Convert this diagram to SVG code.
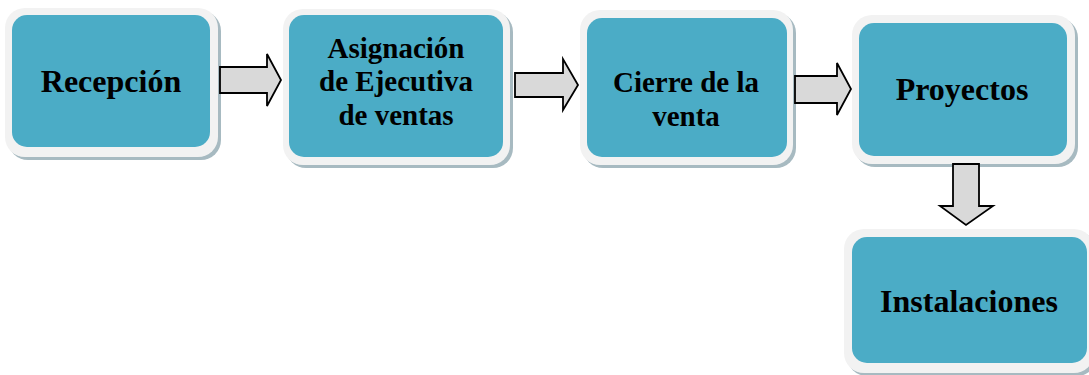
<svg xmlns="http://www.w3.org/2000/svg" width="1089" height="375" viewBox="0 0 1089 375">
<style>
.sh{fill:#a7bac1}
.fr{fill:#f2f2f2}
.in{fill:#4bacc6}
.t{font-family:"Liberation Serif","Times New Roman",serif;font-weight:bold;fill:#000;text-anchor:middle}
.a{fill:#d9d9d9;stroke:#000;stroke-width:1.8;stroke-linejoin:miter}
</style>
<rect width="1089" height="375" fill="#fff"/>
<g id="n1">
<rect class="sh" x="8" y="11" width="213" height="149" rx="20"/>
<rect class="fr" x="5" y="8" width="213" height="149" rx="20"/>
<rect class="in" x="12" y="15" width="198" height="132" rx="15"/>
<text class="t" x="111" y="92" font-size="32">Recepción</text>
</g>
<g id="n2">
<rect class="sh" x="286" y="12" width="227" height="156" rx="20"/>
<rect class="fr" x="283" y="9" width="227" height="156" rx="20"/>
<rect class="in" x="289" y="15" width="214" height="142" rx="15"/>
<text class="t" x="396" font-size="29"><tspan x="396" y="58">Asignación</tspan><tspan x="396" y="91">de Ejecutiva</tspan><tspan x="396" y="125">de ventas</tspan></text>
</g>
<g id="n3">
<rect class="sh" x="583" y="13" width="213" height="155" rx="20"/>
<rect class="fr" x="580" y="10" width="213" height="155" rx="20"/>
<rect class="in" x="587" y="18" width="200" height="139" rx="15"/>
<text class="t" x="686" font-size="29"><tspan x="686" y="92">Cierre de la</tspan><tspan x="686" y="126">venta</tspan></text>
</g>
<g id="n4">
<rect class="sh" x="855" y="18" width="223" height="149" rx="20"/>
<rect class="fr" x="852" y="15" width="223" height="149" rx="20"/>
<rect class="in" x="859" y="23" width="208" height="133" rx="15"/>
<text class="t" x="962" y="100" font-size="32">Proyectos</text>
</g>
<g id="n5">
<rect class="sh" x="847" y="232" width="250" height="144" rx="20"/>
<rect class="fr" x="844" y="229" width="250" height="144" rx="20"/>
<rect class="in" x="852" y="237" width="235" height="126" rx="15"/>
<text class="t" x="969" y="312" font-size="32">Instalaciones</text>
</g>
<g id="connectors">
<polygon class="a" points="220,67 267,67 267,54 281,80 267,106 267,93 220,93"/>
<polygon class="a" points="515,73 563,73 563,59 578,85 563,110 563,97 515,97"/>
<polygon class="a" points="795,76 837,76 837,63 851,89 837,115 837,103 795,103"/>
<polygon class="a" points="953,164 979,164 979,206 993,206 966,225 940,206 953,206"/>
</g>
</svg>
